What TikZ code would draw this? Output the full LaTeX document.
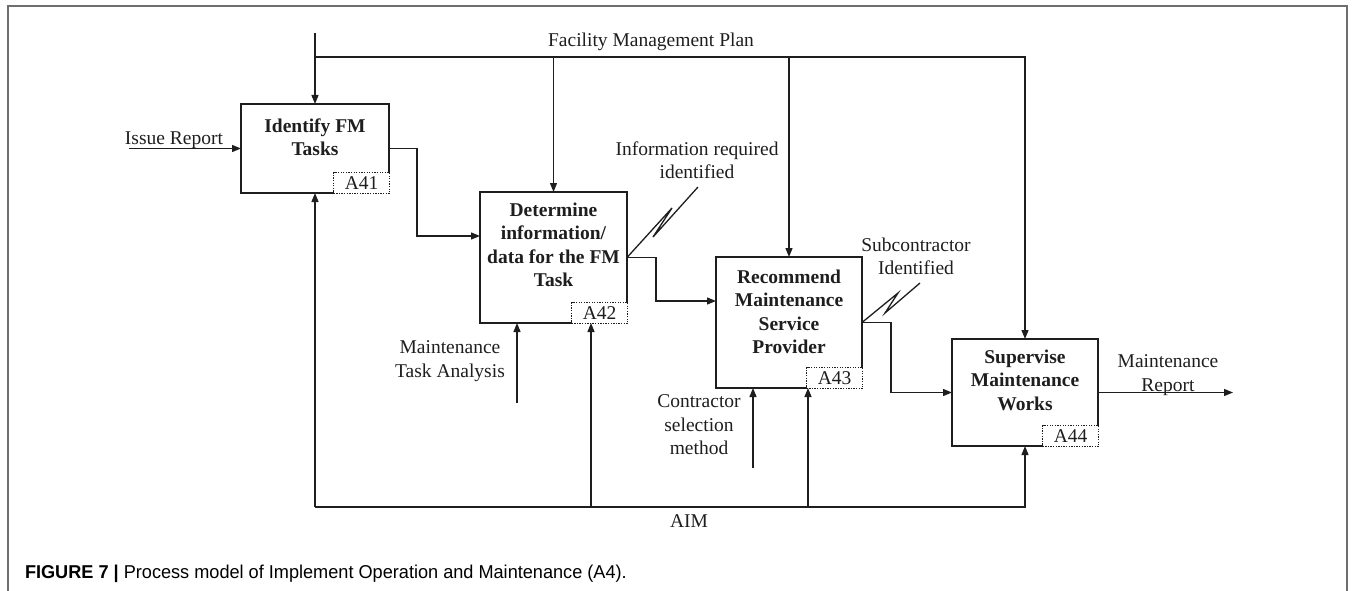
\documentclass[tikz,border=0pt]{standalone}
\usepackage{fontspec}
\setmainfont{Liberation Serif}
\newfontfamily\capfont[FakeStretch=0.975]{Liberation Sans}
\usetikzlibrary{arrows.meta}
\definecolor{ink}{RGB}{30,30,30}
\definecolor{framegray}{RGB}{110,110,110}
\tikzset{
  every node/.style={inner sep=0pt, outer sep=0pt, text=ink},
  lbl/.style={font=\fontsize{19.5}{23.5}\selectfont, align=center},
  boxtxt/.style={font=\fontsize{19.5}{23.5}\selectfont\bfseries, align=center, anchor=north},
  procbox/.style={draw=ink, line width=1.3pt, minimum width=#1},
  idbox/.style={draw=ink, fill=white, dash pattern=on 1.3pt off 1.3pt, line width=1.2pt,
     minimum width=56pt, minimum height=21pt,
     anchor=south east, xshift=0.6pt, yshift=-0.6pt, font=\fontsize{19.5}{23.5}\selectfont},
  conn/.style={draw=ink, line width=1.3pt},
  arr/.style={conn, -{Triangle[length=9pt,width=7pt]}},
}
\begin{document}
\begin{tikzpicture}[x=1pt,y=-1pt]
\useasboundingbox (0,0) rectangle (1356,591);
% frame
\draw[framegray, line width=1.4pt] (8,591) -- (8,6) -- (1347,6) -- (1347,591);

% process boxes
\node[procbox=148pt, minimum height=89pt] (A41) at (315,148.5) {};
\node[procbox=147pt, minimum height=131pt] (A42) at (553.5,257.5) {};
\node[procbox=146pt, minimum height=131pt] (A43) at (789,322.5) {};
\node[procbox=146pt, minimum height=107pt] (A44) at (1025,392.5) {};

% box texts
\node[boxtxt] (t41) at (315,118.7) {Identify FM\\Tasks};
\node[boxtxt] (t42) at (553.5,202.7) {Determine\\information/\\data for the FM\\Task};
\node[boxtxt] (t43) at (789,269.7) {Recommend\\Maintenance\\Service\\Provider};
\node[boxtxt] (t44) at (1025,349.7) {Supervise\\Maintenance\\Works};

% ids
\node[idbox] (i41) at (A41.south east) {A41};
\node[idbox] (i42) at (A42.south east) {A42};
\node[idbox] (i43) at (A43.south east) {A43};
\node[idbox] (i44) at (A44.south east) {A44};

% labels
\node[lbl, anchor=base] (fmp) at (651,47) {Facility Management Plan};
\node[lbl, anchor=base] (irl) at (174,144) {Issue Report};
\node[lbl, anchor=base] (aiml) at (689,527) {AIM};
\node[lbl, anchor=north] (infl) at (697,141.7) {Information required\\identified};
\node[lbl, anchor=north] (subl) at (916,237.7) {Subcontractor\\Identified};
\node[lbl, anchor=north] (mtal) at (450,340.7) {Maintenance\\Task Analysis};
\node[lbl, anchor=north] (csml) at (699,394.7) {Contractor\\selection\\method};
\node[lbl, anchor=north] (mrl) at (1168,354.7) {Maintenance\\Report};

% control: facility management plan
\coordinate (fmp0) at (315,33);
\coordinate (fmpR) at (1025,57);
\draw[arr] (fmp0) -- (A41.north);
\draw[arr] (fmp0 |- fmpR) -- (fmpR) -- (A44.north);
\draw[arr] (A42.north |- fmpR) -- (A42.north);
\draw[arr] (A43.north |- fmpR) -- (A43.north);

% input
\coordinate (ir) at (129,148.5);
\draw[arr] (ir) -- (A41.west);

% flows between boxes
\coordinate (j1) at (417,236);
\draw[arr] (A41.east) -| (j1) -- (j1 -| A42.west);
\coordinate (j2) at (656,301);
\draw[arr] (A42.east) -| (j2) -- (j2 -| A43.west);
\coordinate (j3) at (891,392.5);
\draw[arr] (A43.east) -| (j3) -- (A44.west);
\coordinate (mr) at (1233,392.5);
\draw[arr] (A44.east) -- (mr);

% squiggles
\coordinate (s1) at (698,187);
\draw[conn] (A42.east) -- (672,208) -- (653,237) -- (s1);
\coordinate (s2) at (920,283);
\draw[conn] (A43.east) -- (898,293) -- (885,313) -- (s2);

% mechanism: AIM
\coordinate (aimL) at (315,507);
\coordinate (aimR) at (1025,507);
\coordinate (aim2) at (591,507);
\coordinate (aim3) at (808,507);
\draw[arr] (aimL) -- (A41.south);
\draw[arr] (aimL) -- (aimR) -- (A44.south);
\draw[arr] (aim2) -- (aim2 |- A42.south);
\draw[arr] (aim3) -- (aim3 |- A43.south);

% other bottom inputs
\coordinate (mta) at (517,403);
\draw[arr] (mta) -- (mta |- A42.south);
\coordinate (csm) at (753,468);
\draw[arr] (csm) -- (csm |- A43.south);

% caption
\node[anchor=base west, font=\capfont\fontsize{18.6}{22}\selectfont, text=black] (cap) at (25,578)
  {\textbf{FIGURE 7 |} Process model of Implement Operation and Maintenance (A4).};
\end{tikzpicture}
\end{document}
